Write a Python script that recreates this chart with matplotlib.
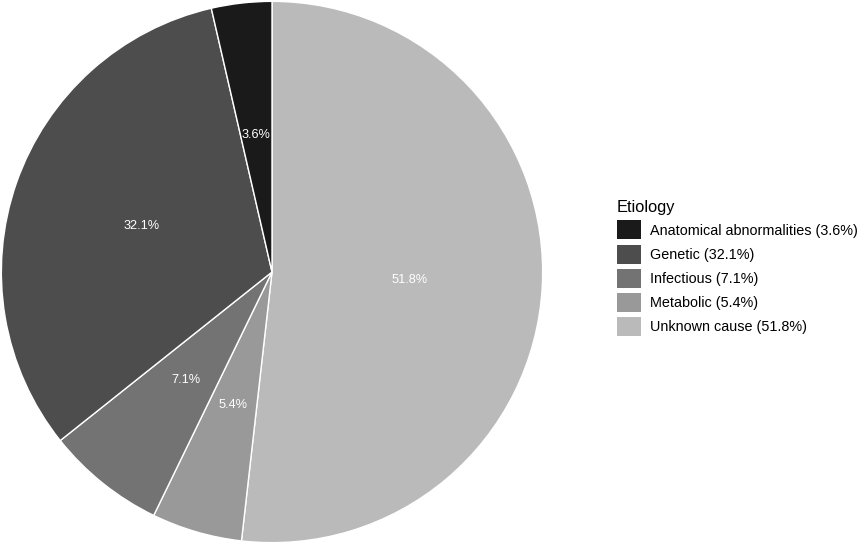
import matplotlib.pyplot as plt
from matplotlib.patches import Patch

plt.rcParams['font.family'] = ['Liberation Sans', 'DejaVu Sans']

# data (clockwise from 12 o'clock)
slice_names = ['Unknown cause', 'Metabolic', 'Infectious', 'Genetic', 'Anatomical abnormalities']
slice_pcts = [51.8, 5.4, 7.1, 32.1, 3.6]
slice_colors = ['#bababa', '#999999', '#737373', '#4d4d4d', '#1a1a1a']

legend_names = ['Anatomical abnormalities', 'Genetic', 'Infectious', 'Metabolic', 'Unknown cause']

fig = plt.figure(figsize=(8.67, 5.44), dpi=100)
ax = fig.add_axes([0.0, 0.0, 544 / 867, 1.0])

wedges, texts = ax.pie(
    slice_pcts,
    colors=slice_colors,
    labels=[f'{p}%' for p in slice_pcts],
    labeldistance=0.51,
    startangle=90,
    counterclock=False,
    radius=1.0,
    wedgeprops=dict(edgecolor='white', linewidth=1),
    textprops=dict(color='white', fontsize=9.2, ha='center', va='center'),
)
ax.set_xlim(-1.005, 1.005)
ax.set_ylim(-1.0, 1.0)
ax.set_aspect('equal')

col_of = dict(zip(slice_names, slice_colors))
pct_of = dict(zip(slice_names, slice_pcts))
handles = [Patch(facecolor=col_of[n], edgecolor='none') for n in legend_names]
labels = [f'{n} ({pct_of[n]}%)' for n in legend_names]

leg = fig.legend(
    handles, labels,
    title='Etiology',
    loc='upper left',
    bbox_to_anchor=(607 / 867, 1 - 190 / 544),
    frameon=False,
    fontsize=10.4,
    title_fontsize=11.8,
    handlelength=1.65,
    handleheight=1.65,
    handletextpad=0.65,
    labelspacing=0.36,
    borderpad=0.2,
)
leg._legend_box.align = 'left'

fig.savefig('out.png', dpi=100)
